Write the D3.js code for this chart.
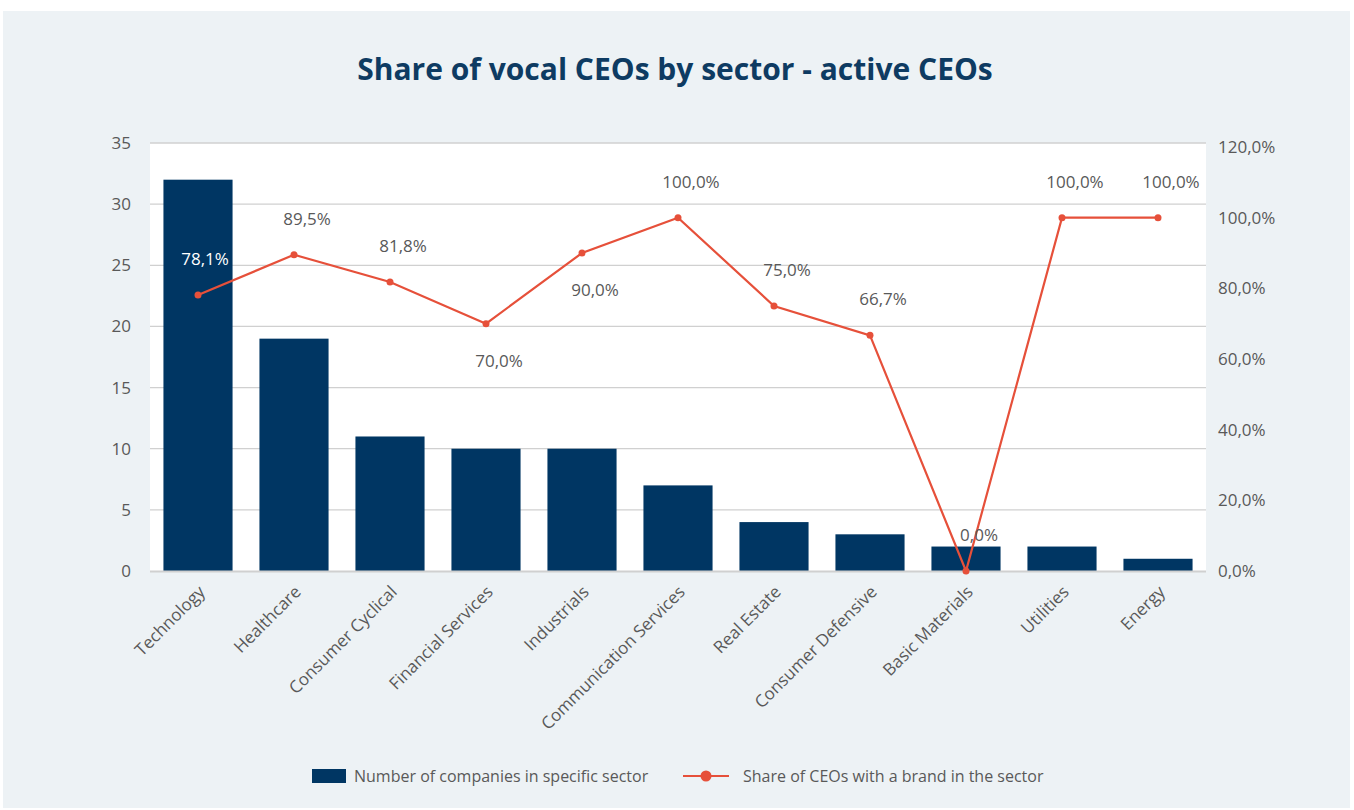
<!DOCTYPE html>
<html><head><meta charset="utf-8">
<script src="https://cdn.jsdelivr.net/npm/d3@7"></script>
<style>
html,body{margin:0;padding:0;background:#fff;}
svg{display:block;font-family:"Open Sans","Noto Sans",sans-serif;}
</style></head>
<body>
<svg id="chart" width="1354" height="810"></svg>
<script>
const categories = ["Technology","Healthcare","Consumer Cyclical","Financial Services","Industrials","Communication Services","Real Estate","Consumer Defensive","Basic Materials","Utilities","Energy"];
const companyCounts = [32,19,11,10,10,7,4,3,2,2,1];
const shareWithBrand = [0.781,0.895,0.818,0.70,0.90,1.0,0.75,0.667,0.0,1.0,1.0];
const leftTicks = [0,5,10,15,20,25,30,35];
const rightTicks = [0,0.2,0.4,0.6,0.8,1.0,1.2];
const labelBelow = [false,false,false,true,true,false,false,false,false,false,false];
const seriesNames = ["Number of companies in specific sector","Share of CEOs with a brand in the sector"];
const title = "Share of vocal CEOs by sector - active CEOs";

const FONT = '"Open Sans","Noto Sans",sans-serif';
const svg = d3.select("#chart");
const W = 1354, H = 810;
const m = {left:150, right:148, top:143, bottom:239};
const pw = W - m.left - m.right, ph = H - m.top - m.bottom;

svg.append("rect").attr("x",3).attr("y",11).attr("width",1347).attr("height",797).attr("fill","#EDF2F5");
svg.append("text").attr("x",675).attr("y",80).attr("text-anchor","middle")
  .attr("font-size",30).attr("font-weight",700).attr("fill","#0E3B62").text(title);

const g = svg.append("g").attr("transform",`translate(${m.left},${m.top})`);
g.append("rect").attr("width",pw).attr("height",ph).attr("fill","#fff");

const x = d3.scaleBand().domain(categories).range([0,pw]).paddingInner(0.28).paddingOuter(0.14);
const y = d3.scaleLinear().domain([0,35]).range([ph,0]);
const y2 = d3.scaleLinear().domain([0,1.2]).range([ph,4]);
const fmt = v => d3.format(".1f")(v*100).replace(".",",") + "%";

// gridlines
g.selectAll("line.grid").data(leftTicks.filter(d=>d>0)).join("line")
  .attr("x1",0).attr("x2",pw).attr("y1",d=>y(d)).attr("y2",d=>y(d))
  .attr("stroke","#D0D0D0").attr("stroke-width",1.3);

// bars
g.selectAll("rect.bar").data(categories).join("rect")
  .attr("x",d=>x(d)).attr("width",x.bandwidth())
  .attr("y",(d,i)=>y(companyCounts[i])).attr("height",(d,i)=>ph-y(companyCounts[i]))
  .attr("fill","#003663");

// baseline
g.append("line").attr("x1",0).attr("x2",pw).attr("y1",ph+0.5).attr("y2",ph+0.5)
  .attr("stroke","#D0D0D0").attr("stroke-width",2);

function styleAxis(sel){
  sel.attr("font-family",FONT).attr("font-size",17);
  sel.select(".domain").remove();
  sel.selectAll("text").attr("fill","#595959");
}

// left axis
const la = g.append("g").call(d3.axisLeft(y).tickValues(leftTicks).tickSize(0).tickPadding(19));
styleAxis(la);

// right axis
const ra = g.append("g").attr("transform",`translate(${pw},0)`)
  .call(d3.axisRight(y2).tickValues(rightTicks).tickSize(0).tickPadding(12).tickFormat(fmt));
styleAxis(ra);

// x axis labels
const xa = g.append("g").attr("transform",`translate(0,${ph})`)
  .call(d3.axisBottom(x).tickSize(0).tickPadding(0));
styleAxis(xa);
xa.selectAll("text").attr("text-anchor","end").attr("dy",0)
  .attr("transform","translate(8,22) rotate(-45)");

// line
const cx = d => x(d) + x.bandwidth()/2;
const line = d3.line().x((d,i)=>cx(categories[i])).y(d=>y2(d));
g.append("path").datum(shareWithBrand).attr("d",line).attr("fill","none")
  .attr("stroke","#E6503A").attr("stroke-width",2.2);
g.selectAll("circle.pt").data(shareWithBrand).join("circle")
  .attr("cx",(d,i)=>cx(categories[i])).attr("cy",d=>y2(d)).attr("r",3.5).attr("fill","#E6503A");

// data labels
g.selectAll("text.lbl").data(shareWithBrand).join("text")
  .attr("x",(d,i)=>cx(categories[i]) + (i===0 ? 7 : 13))
  .attr("y",(d,i)=>y2(d) + (labelBelow[i] ? 43 : -30))
  .attr("text-anchor","middle").attr("font-size",17)
  .attr("fill",(d,i)=> i===0 ? "#FFFFFF" : "#595959")
  .text(d=>fmt(d));

// legend
const lg = svg.append("g");
lg.append("rect").attr("x",312).attr("y",769).attr("width",34).attr("height",14).attr("fill","#003663");
lg.append("text").attr("x",354).attr("y",782).attr("font-size",16).attr("fill","#595959").text(seriesNames[0]);
lg.append("line").attr("x1",683).attr("x2",729).attr("y1",776).attr("y2",776).attr("stroke","#E6503A").attr("stroke-width",2.2);
lg.append("circle").attr("cx",706).attr("cy",776).attr("r",5.5).attr("fill","#E6503A");
lg.append("text").attr("x",743).attr("y",782).attr("font-size",16).attr("fill","#595959").text(seriesNames[1]);
</script>
</body></html>
